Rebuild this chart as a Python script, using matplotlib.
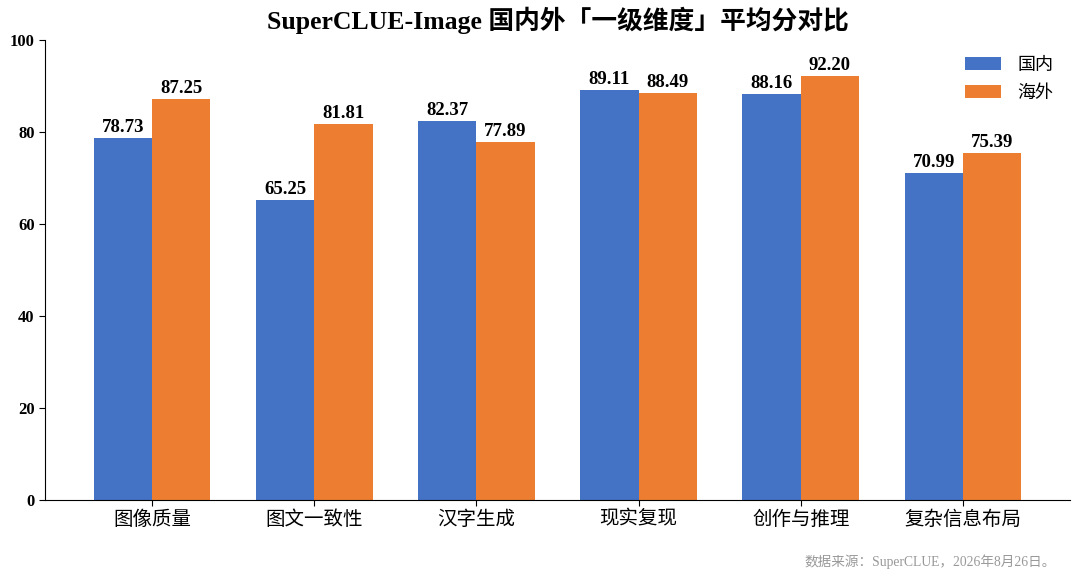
import matplotlib
matplotlib.use("Agg")
import matplotlib.pyplot as plt
import numpy as np

plt.rcParams["font.family"] = ["Liberation Serif", "Noto Sans CJK SC", "DejaVu Sans"]

categories = ["图像质量", "图文一致性", "汉字生成", "现实复现", "创作与推理", "复杂信息布局"]
domestic = [78.73, 65.25, 82.37, 89.11, 88.16, 70.99]
overseas = [87.25, 81.81, 77.89, 88.49, 92.20, 75.39]
series_names = ["国内", "海外"]
yticks = [0, 20, 40, 60, 80, 100]

BLUE = "#4472C4"
ORANGE = "#ED7D31"
WIDTH = 0.36

fig = plt.figure(figsize=(10.8, 5.79), dpi=100)
ax = fig.add_axes([0.0417, 0.1364, 0.949, 0.7946])

x = np.arange(len(categories))
b1 = ax.bar(x - WIDTH / 2, domestic, WIDTH, color=BLUE, label=series_names[0])
b2 = ax.bar(x + WIDTH / 2, overseas, WIDTH, color=ORANGE, label=series_names[1])

for bars in (b1, b2):
    for rect in bars:
        h = rect.get_height()
        ax.annotate(f"{h:.2f}", (rect.get_x() + rect.get_width() / 2, h),
                    xytext=(0, 1.5), textcoords="offset points",
                    ha="center", va="bottom", fontsize=13.5, fontweight="bold")

ax.set_xlim(-0.66, len(categories) - 1 + 0.66)
ax.set_ylim(0, 100)
ax.set_xticks(x)
ax.set_xticklabels(categories, fontsize=14)
ax.set_yticks(yticks)
ax.set_yticklabels([str(v) for v in yticks], fontsize=12, fontweight="bold")
ax.spines["top"].set_visible(False)
ax.spines["right"].set_visible(False)
ax.tick_params(axis="both", length=4)

ax.legend(loc="upper right", frameon=False, fontsize=13, labelspacing=0.6,
          handlelength=2.0, handletextpad=0.9, bbox_to_anchor=(1.0, 0.998))

# title is centred over the axes, not the figure
ax.set_title("SuperCLUE-Image 国内外「一级维度」平均分对比", fontsize=18.5,
             fontweight="bold", pad=8)
fig.text(0.978, 0.018, "数据来源：SuperCLUE，2026年8月26日。", ha="right", va="bottom",
         fontsize=9.8, color="#999999")

fig.savefig("out.png")
